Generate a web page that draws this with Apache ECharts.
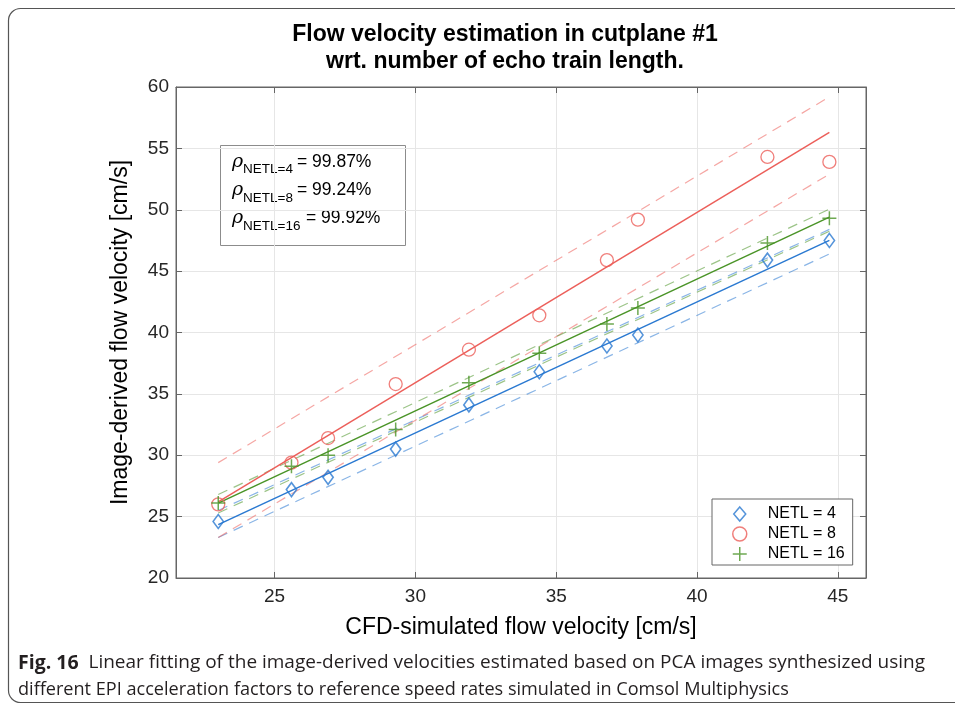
<!DOCTYPE html>
<html>
<head>
<meta charset="utf-8">
<script src="https://cdn.jsdelivr.net/npm/echarts@6/dist/echarts.min.js"></script>
<style>
  html, body { margin: 0; padding: 0; background: #fff; }
  #chart { width: 955px; height: 708px; }
</style>
</head>
<body>
<div id="chart"></div>
<script>
// ---- data ----
const cfdVelocity = [23.0, 25.6, 26.9, 29.3, 31.9, 34.4, 36.8, 37.9, 42.5, 44.7];
const netl4  = [24.6, 27.2, 28.2, 30.5, 34.1, 36.8, 38.9, 39.8, 45.9, 47.5];
const netl8  = [26.0, 29.4, 31.4, 35.8, 38.6, 41.4, 45.9, 49.2, 54.3, 53.9];
const netl16 = [26.1, 29.1, 30.0, 32.1, 35.9, 38.3, 40.7, 42.0, 47.3, 49.3];

// fitted lines and bounds: values at the two ends of the fit range
const fitX       = [23.0, 44.7];
const fit4       = [24.35, 47.5];
const fit4Upper  = [25.5, 48.4];
const fit4Lower  = [23.3, 46.4];
const fit8       = [26.2, 56.3];
const fit8Upper  = [29.4, 59.2];
const fit8Lower  = [23.3, 52.9];
const fit16      = [26.1, 49.4];
const fit16Upper = [26.8, 50.05];
const fit16Lower = [25.3, 48.25];

const seriesNames = ['NETL = 4', 'NETL = 8', 'NETL = 16'];
const corrLabels  = ['NETL=4', 'NETL=8', 'NETL=16'];
const corrValues  = ['99.87%', '99.24%', '99.92%'];

const xRange = [21.5, 46];
const yRange = [20, 60];

// ---- styles ----
const BLUE = '#2a79d1', RED = '#ec5f5a', GREEN = '#4a9427';
const FONT = '"Liberation Sans", Arial, Helvetica, sans-serif';
const DIAMOND = 'path://M6,0 L12,7 L6,14 L0,7 Z';
const PLUS = 'path://M10,0 L10,20 M0,10 L20,10';

function pairs(xs, ys) { return xs.map((x, i) => [x, ys[i]]); }

function fitSeries(name, ys, color, dashed) {
  return {
    name: name, type: 'line', silent: true, showSymbol: false, symbol: 'none',
    data: pairs(fitX, ys), z: 2,
    lineStyle: dashed
      ? { color: color, width: 1.2, type: [10, 7], opacity: 0.55 }
      : { color: color, width: 1.5 },
    emphasis: { disabled: true }
  };
}

const chart = echarts.init(document.getElementById('chart'), null, { renderer: 'canvas' });

const axisCommon = {
  type: 'value',
  axisLine: { show: true, lineStyle: { color: '#666', width: 1 } },
  axisTick: { show: true, inside: true, length: 6, lineStyle: { color: '#666' } },
  axisLabel: { color: '#262626', fontSize: 19, fontFamily: FONT },
};

const option = {
  animation: false,
  backgroundColor: '#fff',
  title: {
    text: 'Flow velocity estimation in cutplane #1\nwrt. number of echo train length.',
    left: 505, top: 21, textAlign: 'center', padding: 0,
    textStyle: { fontFamily: FONT, fontWeight: 'bold', fontSize: 23, lineHeight: 27, color: '#000' }
  },
  grid: {
    left: 176, top: 87, width: 690, height: 491,
    show: true, borderColor: '#666', borderWidth: 1, backgroundColor: '#fff',
    containLabel: false, outerBoundsMode: 'none'
  },
  legend: {
    orient: 'vertical', left: 712, top: 499,
    data: seriesNames,
    itemWidth: 14, itemHeight: 14, itemGap: 4,
    padding: [7, 8, 3, 20],
    backgroundColor: '#fff', borderColor: '#666', borderWidth: 1, borderRadius: 0,
    textStyle: { fontFamily: FONT, fontSize: 16, color: '#000', padding: [0, 0, 0, 16] },
    itemStyle: { borderWidth: 1.5 },
    selectedMode: false
  },
  xAxis: [
    Object.assign({}, axisCommon, {
      position: 'bottom', min: xRange[0], max: xRange[1], splitNumber: 5,
      minInterval: 5, maxInterval: 5,
      axisLabel: Object.assign({}, axisCommon.axisLabel, { margin: 9, showMinLabel: false, showMaxLabel: false }),
      splitLine: { show: true, lineStyle: { color: '#e6e6e6', width: 1 } },
      name: 'CFD-simulated flow velocity [cm/s]', nameLocation: 'middle', nameGap: 38,
      nameTextStyle: { fontFamily: FONT, fontSize: 23, color: '#000' }
    }),
    Object.assign({}, axisCommon, {
      position: 'top', min: xRange[0], max: xRange[1], splitNumber: 5,
      minInterval: 5, maxInterval: 5,
      axisLabel: { show: false }, splitLine: { show: false }
    })
  ],
  yAxis: [
    Object.assign({}, axisCommon, {
      position: 'left', min: yRange[0], max: yRange[1], interval: 5,
      axisLabel: Object.assign({}, axisCommon.axisLabel, { margin: 7 }),
      splitLine: { show: true, lineStyle: { color: '#e6e6e6', width: 1 } },
      name: 'Image-derived flow velocity [cm/s]', nameLocation: 'middle', nameGap: 44,
      nameTextStyle: { fontFamily: FONT, fontSize: 23, color: '#000' }
    }),
    Object.assign({}, axisCommon, {
      position: 'right', min: yRange[0], max: yRange[1], interval: 5,
      axisLabel: { show: false }, splitLine: { show: false }
    })
  ],
  series: [
    fitSeries('fit4 upper', fit4Upper, BLUE, true),
    fitSeries('fit4 lower', fit4Lower, BLUE, true),
    fitSeries('fit8 upper', fit8Upper, RED, true),
    fitSeries('fit8 lower', fit8Lower, RED, true),
    fitSeries('fit16 upper', fit16Upper, GREEN, true),
    fitSeries('fit16 lower', fit16Lower, GREEN, true),
    fitSeries('fit4', fit4, BLUE, false),
    fitSeries('fit8', fit8, RED, false),
    fitSeries('fit16', fit16, GREEN, false),
    {
      name: seriesNames[0], type: 'scatter', z: 5, data: pairs(cfdVelocity, netl4),
      symbol: DIAMOND, symbolSize: [12, 14], symbolKeepAspect: true,
      itemStyle: { color: 'rgba(0,0,0,0)', borderColor: BLUE, borderWidth: 1.6 }
    },
    {
      name: seriesNames[1], type: 'scatter', z: 5, data: pairs(cfdVelocity, netl8),
      symbol: 'circle', symbolSize: 13,
      itemStyle: { color: 'rgba(0,0,0,0)', borderColor: RED, borderWidth: 1.3 }
    },
    {
      name: seriesNames[2], type: 'scatter', z: 5, data: pairs(cfdVelocity, netl16),
      symbol: PLUS, symbolSize: 14,
      itemStyle: { color: 'rgba(0,0,0,0)', borderColor: GREEN, borderWidth: 1.5 }
    }
  ],
  graphic: [
    // figure frame
    {
      type: 'rect', silent: true, z: -10,
      shape: { x: 8.5, y: 8.5, width: 990, height: 694, r: 12 },
      style: { fill: 'none', stroke: '#555', lineWidth: 1.2 }
    },
    // correlation annotation box
    {
      type: 'group', z: 100,
      children: [
        {
          type: 'rect', shape: { x: 220.5, y: 145.5, width: 185, height: 100 },
          style: { fill: '#fff', stroke: '#8c8c8c', lineWidth: 1 }
        }
      ].concat(corrLabels.flatMap((lab, i) => {
        const cy = 161.7 + i * 28.3;
        return [
          { type: 'text', x: 232, y: cy, style: { text: 'ρ', font: 'italic 19px "DejaVu Serif", serif', fill: '#000', verticalAlign: 'middle' } },
          { type: 'text', x: 243, y: cy + 8, style: { text: lab, font: '13.5px ' + FONT, fill: '#000', verticalAlign: 'middle' } },
          { type: 'text', x: i === 2 ? 306 : 297, y: cy, style: { text: '= ' + corrValues[i], font: '17.5px ' + FONT, fill: '#000', verticalAlign: 'middle' } }
        ];
      }))
    },
    // caption
    {
      type: 'text', x: 18, y: 663, z: 100,
      style: {
        text: '{b|Fig. 16}  Linear fitting of the image-derived velocities estimated based on PCA images synthesized using',
        font: '19px "Open Sans", sans-serif', fill: '#231f20', verticalAlign: 'middle',
        rich: { b: { fontFamily: '"Open Sans", sans-serif', fontWeight: 'bold', fontSize: 19.5, fill: '#231f20' } }
      }
    },
    {
      type: 'text', x: 18, y: 690, z: 100,
      style: {
        text: 'different EPI acceleration factors to reference speed rates simulated in Comsol Multiphysics',
        font: '18.1px "Open Sans", sans-serif', fill: '#231f20', verticalAlign: 'middle'
      }
    }
  ]
};

chart.setOption(option);
</script>
</body>
</html>
